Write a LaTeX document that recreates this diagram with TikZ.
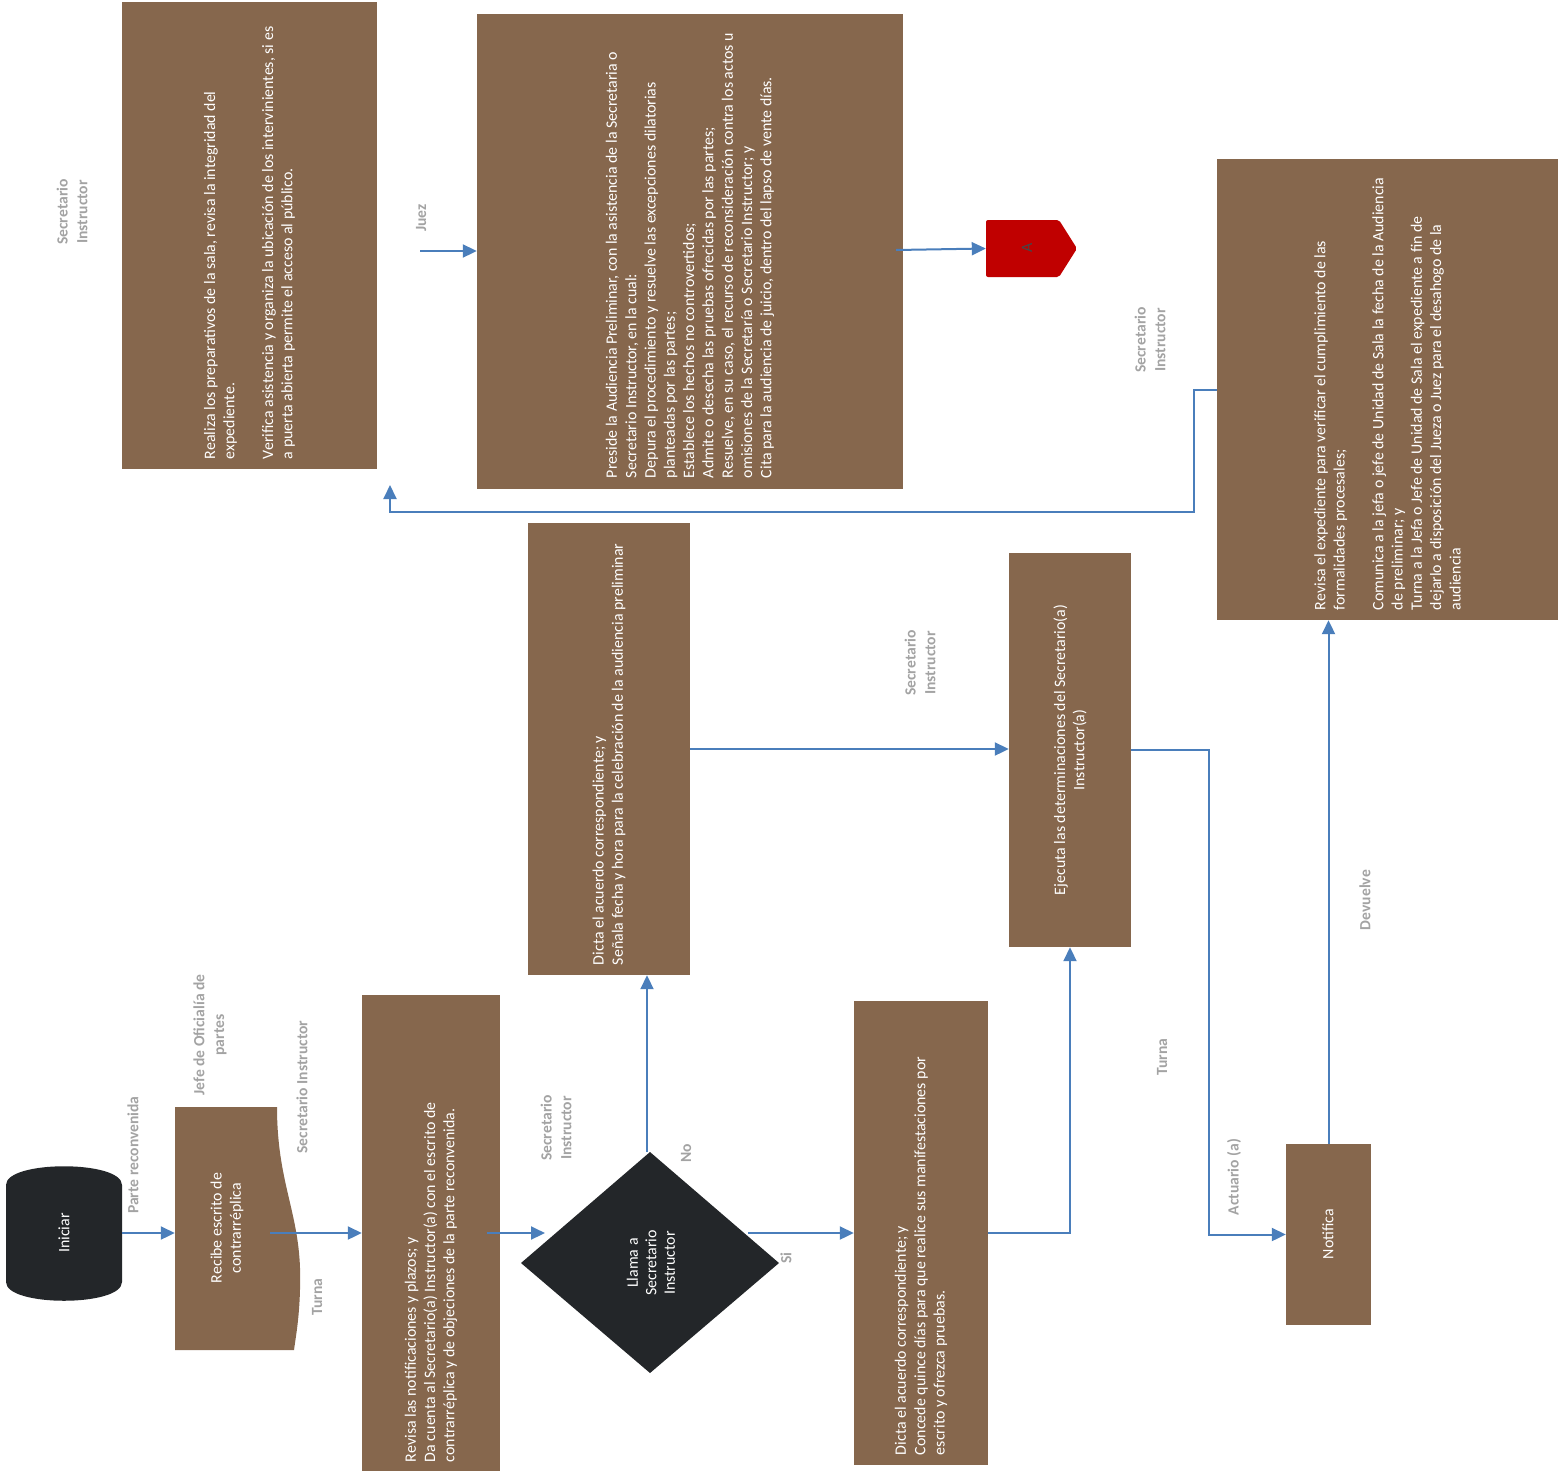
\documentclass[tikz,border=0pt]{standalone}
\usepackage{fontspec}
\setmainfont{Carlito}
\usetikzlibrary{arrows.meta}
\definecolor{brownbox}{HTML}{86674D}
\definecolor{darkshape}{HTML}{232629}
\definecolor{flowblue}{HTML}{4A7EBB}
\definecolor{labelgray}{HTML}{A3A3A3}
\definecolor{tagred}{HTML}{C00000}
\begin{document}
\begin{tikzpicture}[x=1pt,y=-1pt,
  box/.style={fill=brownbox, draw=none, inner sep=0pt},
  anchorbox/.style={draw=none, inner sep=0pt},
  boxtext/.style={rotate=90, text=white, align=left, inner sep=0pt, anchor=west,
    font=\fontsize{15.9}{19.3}\selectfont},
  ctext/.style={rotate=90, text=white, align=center, inner sep=0pt,
    font=\fontsize{15.9}{19.3}\selectfont},
  lbl/.style={rotate=90, text=labelgray, align=center, inner sep=0pt,
    font=\bfseries\fontsize{15.6}{19.8}\selectfont},
  flow/.style={draw=flowblue, line width=2pt, -{Triangle[length=14pt,width=13pt]}},
]
\useasboundingbox (0,0) rectangle (1562,1473);

% ---------- boxes ----------
\node[box, minimum width=255pt, minimum height=467pt] (b1) at (249.5,235.5) {};
\node[box, minimum width=426pt, minimum height=475pt] (b2) at (690,251.5) {};
\node[box, minimum width=341pt, minimum height=461pt] (b3) at (1387.5,389.5) {};
\node[box, minimum width=162pt, minimum height=452pt] (b4) at (609,749) {};
\node[box, minimum width=122pt, minimum height=394pt] (b5) at (1070,750) {};
\node[box, minimum width=138pt, minimum height=476pt] (b6) at (431,1233) {};
\node[box, minimum width=134pt, minimum height=464pt] (b7) at (921,1233) {};
\node[box, minimum width=85pt, minimum height=181pt] (b8) at (1328.5,1234.5) {};

% Iniciar (terminal)
\fill[darkshape] (6,1185) .. controls (6,1160) and (122,1160) .. (122,1185) -- (122,1282)
  .. controls (122,1307) and (6,1307) .. (6,1282) -- cycle;
\node[anchorbox, minimum width=116pt, minimum height=137pt] (ini) at (64,1233.5) {};
\node[ctext] (initext) at (64,1233) {Iniciar};

% Recibe (document shape)
\fill[brownbox] (175,1107) -- (277,1107) .. controls (277,1180) and (298,1210) .. (300,1268)
  .. controls (301,1310) and (296,1335) .. (294,1350) -- (175,1350) -- cycle;
\node[anchorbox, minimum width=125pt, minimum height=243pt] (rec) at (237.5,1228.5) {};
\node[ctext] (rectext) at (227,1228) {Recibe escrito de\\contrarréplica};

% Diamond
\fill[darkshape] (650,1152) -- (779,1263) -- (650,1373) -- (521,1263) -- cycle;
\node[anchorbox, minimum width=258pt, minimum height=221pt] (dia) at (650,1262.5) {};
\node[ctext, font=\fontsize{15.9}{18.5}\selectfont] (diatext) at (651,1263) {Llama a\\Secretario\\Instructor};

% Tag A
\fill[tagred, rounded corners=2pt] (986,220) -- (1059,220) -- (1077,248.5) -- (1059,277) -- (986,277) -- cycle;
\node[anchorbox, minimum width=82pt, minimum height=57pt] (tag) at (1027,248.5) {};
\node[rotate=90, inner sep=0pt, text=darkshape!85, font=\fontsize{15.9}{18}\selectfont] (tagtext) at (1027,248) {A};

% ---------- box texts ----------
\node[boxtext] (t1) at ([yshift=10pt]b1.south) {Realiza los preparativos de la sala, revisa la integridad del\\
expediente.\\[19.3pt]
Verifica asistencia y organiza la ubicación de los intervinientes, si es\\
a puerta abierta permite el acceso al público.};

\node[boxtext] (t2) at ([yshift=11pt]b2.south) {Preside la Audiencia Preliminar, con la asistencia de la Secretaria o\\
Secretario Instructor, en la cual:\\
Depura el procedimiento y resuelve las excepciones dilatorias\\
planteadas por las partes;\\
Establece los hechos no controvertidos;\\
Admite o desecha las pruebas ofrecidas por las partes;\\
Resuelve, en su caso, el recurso de reconsideración contra los actos u\\
omisiones de la Secretaría o Secretario Instructor; y\\
Cita para la audiencia de juicio, dentro del lapso de vente días.};

\node[boxtext] (t3) at ([yshift=10pt]b3.south) {Revisa el expediente para verificar el cumplimiento de las\\
formalidades procesales;\\[19.3pt]
Comunica a la jefa o jefe de Unidad de Sala la fecha de la Audiencia\\
de preliminar; y\\
Turna a la Jefa o Jefe de Unidad de Sala el expediente a fin de\\
dejarlo a disposición del Jueza o Juez para el desahogo de la\\
audiencia};

\node[boxtext] (t4) at ([yshift=10pt]b4.south) {Dicta el acuerdo correspondiente; y\\
Señala fecha y hora para la celebración de la audiencia preliminar};

\node[ctext] (t5) at (1070,750) {Ejecuta las determinaciones del Secretario(a)\\Instructor(a)};

\node[boxtext] (t6) at ([yshift=9pt]b6.south) {Revisa las notificaciones y plazos; y\\
Da cuenta al Secretario(a) Instructor(a) con el escrito de\\
contrarréplica y de objeciones de la parte reconvenida.};

\node[boxtext] (t7) at ([yshift=10pt]b7.south) {Dicta el acuerdo correspondiente; y\\
Concede quince días para que realice sus manifestaciones por\\
escrito y ofrezca pruebas.};

\node[ctext] (t8) at (1328,1234) {Notifica};

% ---------- connector coordinates ----------
\coordinate (recout) at (270,1233);
\coordinate (revout) at (487,1233);
\coordinate (diain) at (545,1233);
\coordinate (diaout) at (748,1233);
\coordinate (diatop) at (647,1152);
\coordinate (juezin) at (420,251);
\coordinate (b2out) at (896,250);
\coordinate (retend) at (390,485);

% ---------- connectors ----------
\draw[flow] (ini.east |- recout) -- (rec.west |- recout);
\draw[flow] (recout) -- (recout -| b6.west);
\draw[flow] (revout) -- (diain);
\draw[flow] (diaout) -- (diaout -| b7.west);
\draw[flow] (diatop) -- (diatop |- b4.south);
\draw[flow] (b7.east) -| (b5.south);
\draw[flow] (b4.east) -- (b4.east -| b5.west);
\draw[flow] (b5.east) -- ++(78,0) |- (b8.west);
\draw[flow] (b8.north) -- (b8.north |- b3.south);
\draw[flow] (b3.west) -- ++(-23,0) |- (retend |- 0,512) -- (retend);
\draw[flow] (juezin) -- (juezin -| b2.west);
\draw[flow] (b2out) -- (tag.west);

% ---------- labels ----------
\node[lbl] (l1) at (72,212) {Secretario\\Instructor};
\node[lbl] (l2) at (421,218) {Juez};
\node[lbl] (l3) at (1150,340) {Secretario\\Instructor};
\node[lbl] (l4) at (920,663) {Secretario\\Instructor};
\node[lbl] (l5) at (556,1128) {Secretario\\Instructor};
\node[lbl] (l6) at (686,1153) {No};
\node[lbl] (l7) at (786,1258) {Si};
\node[lbl] (l8) at (1365,900) {Devuelve};
\node[lbl] (l9) at (1162,1057) {Turna};
\node[lbl] (l10) at (1234,1177) {Actuario (a)};
\node[lbl] (l11) at (133,1155) {Parte reconvenida};
\node[lbl] (l12) at (210,1035) {Jefe de Oficialía de\\partes};
\node[lbl] (l13) at (302,1087) {Secretario Instructor};
\node[lbl] (l14) at (317,1297) {Turna};
\end{tikzpicture}
\end{document}
